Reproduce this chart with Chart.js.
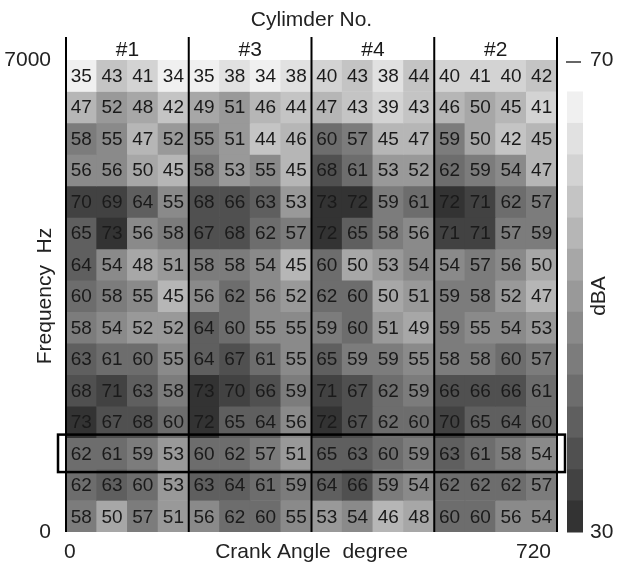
<!DOCTYPE html>
<html>
<head>
<meta charset="utf-8">
<script src="https://cdn.jsdelivr.net/npm/chart.js@4.4.1/dist/chart.umd.min.js"></script>
<style>
  body { margin: 0; background: #fff; }
</style>
</head>
<body>
<canvas id="chart" width="619" height="564"></canvas>
<script>
const cylinders = ['#1', '#3', '#4', '#2'];
const cylinderEdges = [0, 180, 360, 540, 720];
const crankAngles = [22.5, 67.5, 112.5, 157.5, 202.5, 247.5, 292.5, 337.5,
                     382.5, 427.5, 472.5, 517.5, 562.5, 607.5, 652.5, 697.5];
const angleTicks = [0, 720];
const freqTicks = [0, 7000];
const dbaTicks = [30, 70];

// sound level per cell, top row = highest frequency band
const dBA = [
  [35, 43, 41, 34, 35, 38, 34, 38, 40, 43, 38, 44, 40, 41, 40, 42],
  [47, 52, 48, 42, 49, 51, 46, 44, 47, 43, 39, 43, 46, 50, 45, 41],
  [58, 55, 47, 52, 55, 51, 44, 46, 60, 57, 45, 47, 59, 50, 42, 45],
  [56, 56, 50, 45, 58, 53, 55, 45, 68, 61, 53, 52, 62, 59, 54, 47],
  [70, 69, 64, 55, 68, 66, 63, 53, 73, 72, 59, 61, 72, 71, 62, 57],
  [65, 73, 56, 58, 67, 68, 62, 57, 72, 65, 58, 56, 71, 71, 57, 59],
  [64, 54, 48, 51, 58, 58, 54, 45, 60, 50, 53, 54, 54, 57, 56, 50],
  [60, 58, 55, 45, 56, 62, 56, 52, 62, 60, 50, 51, 59, 58, 52, 47],
  [58, 54, 52, 52, 64, 60, 55, 55, 59, 60, 51, 49, 59, 55, 54, 53],
  [63, 61, 60, 55, 64, 67, 61, 55, 65, 59, 59, 55, 58, 58, 60, 57],
  [68, 71, 63, 58, 73, 70, 66, 59, 71, 67, 62, 59, 66, 66, 66, 61],
  [73, 67, 68, 60, 72, 65, 64, 56, 72, 67, 62, 60, 70, 65, 64, 60],
  [62, 61, 59, 53, 60, 62, 57, 51, 65, 63, 60, 59, 63, 61, 58, 54],
  [62, 63, 60, 53, 63, 64, 61, 59, 64, 66, 59, 54, 62, 62, 62, 57],
  [58, 50, 57, 51, 56, 62, 60, 55, 53, 54, 46, 48, 60, 60, 56, 54]
];
const highlightRow = 12;

const shades = ['#ffffff', '#f0f0f0', '#e1e1e1', '#d3d3d3', '#c4c4c4', '#b6b6b6', '#a7a7a7', '#999999',
                '#8a8a8a', '#7c7c7c', '#6d6d6d', '#5f5f5f', '#505050', '#424242', '#333333'];

function shadeFor(v) {
  const k = Math.min(14, Math.max(1, Math.round((v - 34) / 3) + 1));
  return shades[k];
}

const fMax = freqTicks[1];
const band = fMax / dBA.length;

const datasets = dBA.map((row, r) => ({
  data: row.map((v, c) => ({ x: crankAngles[c], y: [fMax - (r + 1) * band, fMax - r * band], v: v })),
  backgroundColor: row.map(shadeFor),
  borderWidth: 0,
  grouped: false,
  barPercentage: 1,
  categoryPercentage: 1
}));

const FONT = "'Liberation Sans', Arial, sans-serif";
Chart.defaults.font.family = FONT;
Chart.defaults.font.size = 21;
Chart.defaults.color = '#222';

// keep the plot box fixed: no extra room for edge labels
function fixBox(size) {
  return s => {
    if (s.isHorizontal()) s.height = size; else s.width = size;
    s.paddingTop = s.paddingBottom = s.paddingLeft = s.paddingRight = 0;
  };
}

const overlay = {
  id: 'overlay',
  afterDraw(chart) {
    const ctx = chart.ctx;
    const area = chart.chartArea;
    const xs = chart.scales.x, ys = chart.scales.y, cb = chart.scales.cb;
    ctx.save();

    // numbers in cells
    ctx.fillStyle = '#1a1a1a';
    ctx.textAlign = 'center';
    ctx.textBaseline = 'middle';
    ctx.font = '19px ' + FONT;
    chart.data.datasets.forEach((ds, i) => {
      chart.getDatasetMeta(i).data.forEach((el, j) => {
        ctx.fillText(String(ds.data[j].v), el.x, (el.y + el.base) / 2 + 1);
      });
    });

    // cylinder separators and labels
    ctx.strokeStyle = '#000';
    ctx.lineWidth = 2;
    cylinderEdges.forEach(a => {
      const x = xs.getPixelForValue(a);
      ctx.beginPath();
      ctx.moveTo(x, area.top - 23);
      ctx.lineTo(x, area.bottom);
      ctx.stroke();
    });
    ctx.font = '21px ' + FONT;
    cylinders.forEach((name, i) => {
      const x = xs.getPixelForValue((cylinderEdges[i] + cylinderEdges[i + 1]) / 2);
      ctx.fillText(name, x, area.top - 10);
    });

    // highlighted band
    const yTop = ys.getPixelForValue(fMax - highlightRow * band);
    const yBot = ys.getPixelForValue(fMax - (highlightRow + 1) * band);
    ctx.lineWidth = 2.5;
    ctx.strokeRect(area.left - 8, yTop - 3, area.width + 16, yBot - yTop + 6);

    // colour bar
    const levels = shades.length;
    const step = (dbaTicks[1] - dbaTicks[0]) / levels;
    for (let k = 0; k < levels; k++) {
      const t = cb.getPixelForValue(dbaTicks[1] - k * step);
      const b = cb.getPixelForValue(dbaTicks[1] - (k + 1) * step);
      ctx.fillStyle = shades[k];
      ctx.fillRect(area.right + 10, t, 16, b - t + 0.5);
    }
    ctx.strokeStyle = '#333';
    ctx.lineWidth = 1.5;
    ctx.beginPath();
    ctx.moveTo(area.right + 9, cb.getPixelForValue(dbaTicks[1]) + 2);
    ctx.lineTo(area.right + 24, cb.getPixelForValue(dbaTicks[1]) + 2);
    ctx.stroke();

    // crank angle tick labels, on the same line as the axis title
    ctx.fillStyle = '#222';
    ctx.font = '21px ' + FONT;
    angleTicks.forEach((a, i) => {
      ctx.textAlign = i === 0 ? 'left' : 'right';
      ctx.fillText(String(a), xs.getPixelForValue(a) + (i === 0 ? -2 : -6), 552);
    });

    // titles
    ctx.textAlign = 'center';
    ctx.fillText('Cylimder No.', (area.left + area.right) / 2, 20);
    ctx.fillText('Crank Angle  degree', (area.left + area.right) / 2, 552);
    ctx.translate(45, (area.top + area.bottom) / 2);
    ctx.rotate(-Math.PI / 2);
    ctx.fillText('Frequency  Hz', 0, 0);
    ctx.setTransform(1, 0, 0, 1, 0, 0);
    ctx.translate(599, (area.top + area.bottom) / 2);
    ctx.rotate(-Math.PI / 2);
    ctx.fillText('dBA', 0, 0);
    ctx.restore();
  }
};

new Chart(document.getElementById('chart'), {
  type: 'bar',
  data: { datasets: datasets },
  options: {
    responsive: false,
    animation: false,
    layout: { padding: { top: 60 } },
    plugins: { legend: { display: false }, tooltip: { enabled: false } },
    scales: {
      x: {
        type: 'linear', min: 0, max: 720, offset: false,
        afterBuildTicks: s => { s.ticks = angleTicks.map(v => ({ value: v })); },
        afterFit: fixBox(32),
        grid: { display: false }, border: { display: false },
        ticks: { display: false }
      },
      y: {
        type: 'linear', min: 0, max: 7000,
        afterBuildTicks: s => { s.ticks = freqTicks.map(v => ({ value: v })); },
        afterFit: fixBox(66),
        grid: { display: false }, border: { display: false },
        ticks: { align: 'inner', padding: 7, callback: v => String(v) }
      },
      cb: {
        type: 'linear', position: 'right', min: 30, max: 70,
        afterBuildTicks: s => { s.ticks = dbaTicks.map(v => ({ value: v })); },
        afterFit: fixBox(62),
        grid: { display: false }, border: { display: false },
        ticks: { padding: 25, callback: v => String(v) }
      }
    }
  },
  plugins: [overlay]
});
</script>
</body>
</html>
